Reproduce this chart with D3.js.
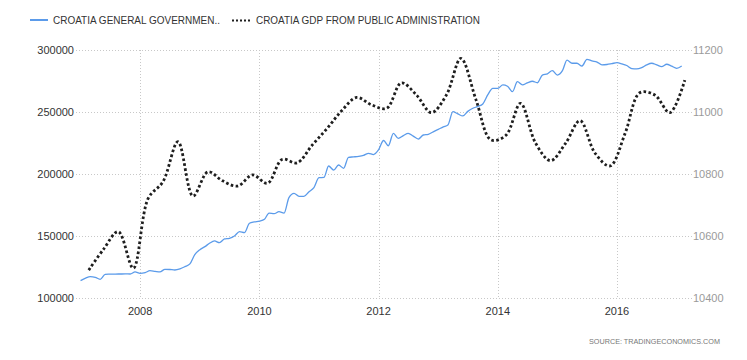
<!DOCTYPE html>
<html><head><meta charset="utf-8">
<script src="https://cdn.jsdelivr.net/npm/d3@7/dist/d3.min.js"></script>
<style>body{margin:0;background:#fff}svg{display:block}</style>
</head><body>
<script>
// ---------------- DATA ----------------
const blueMonths = [
"2007-01","2007-02","2007-03","2007-04","2007-05","2007-06","2007-07","2007-08","2007-09","2007-10","2007-11","2007-12",
"2008-01","2008-02","2008-03","2008-04","2008-05","2008-06","2008-07","2008-08","2008-09","2008-10","2008-11","2008-12",
"2009-01","2009-02","2009-03","2009-04","2009-05","2009-06","2009-07","2009-08","2009-09","2009-10","2009-11","2009-12",
"2010-01","2010-02","2010-03","2010-04","2010-05","2010-06","2010-07","2010-08","2010-09","2010-10","2010-11","2010-12",
"2011-01","2011-02","2011-03","2011-04","2011-05","2011-06","2011-07","2011-08","2011-09","2011-10","2011-11","2011-12",
"2012-01","2012-02","2012-03","2012-04","2012-05","2012-06","2012-07","2012-08","2012-09","2012-10","2012-11","2012-12",
"2013-01","2013-02","2013-03","2013-04","2013-05","2013-06","2013-07","2013-08","2013-09","2013-10","2013-11","2013-12",
"2014-01","2014-02","2014-03","2014-04","2014-05","2014-06","2014-07","2014-08","2014-09","2014-10","2014-11","2014-12",
"2015-01","2015-02","2015-03","2015-04","2015-05","2015-06","2015-07","2015-08","2015-09","2015-10","2015-11","2015-12",
"2016-01","2016-02","2016-03","2016-04","2016-05","2016-06","2016-07","2016-08","2016-09","2016-10","2016-11","2016-12",
"2017-01","2017-02"];
const blueValues = [
114000,116000,117200,116700,115100,119100,119200,119300,119350,119400,119350,121000,
119900,120500,122000,121500,121000,123150,123000,122600,123500,125250,127500,135000,
139000,141400,144100,146000,144600,147600,148150,150000,153500,152700,160250,161300,
162000,163500,168500,168000,169600,168500,181000,184400,182000,182000,185700,189000,
197000,197300,206450,203200,207250,204600,213450,213800,214200,215000,216700,215700,
219500,227000,222800,232800,228800,231000,232800,230500,228200,231450,232000,234000,
236000,238000,239500,250250,248500,246800,250500,253000,254500,256500,264000,269100,
269100,271800,270800,266400,274450,271800,273500,274800,273600,279800,280800,283300,
279800,283300,291900,289300,289300,287100,292500,291200,290300,288000,288300,289000,
289750,288800,287500,285000,284700,285800,288000,289300,288000,286600,288500,287000,
285250,287100];

const gdpQuarters = [
"2007-02-20","2007-05-20","2007-08-20","2007-11-20",
"2008-02-20","2008-05-20","2008-08-20","2008-11-20",
"2009-02-20","2009-05-20","2009-08-20","2009-11-20",
"2010-02-20","2010-05-20","2010-08-20","2010-11-20",
"2011-02-20","2011-05-20","2011-08-20","2011-11-20",
"2012-02-20","2012-05-20","2012-08-20","2012-11-20",
"2013-02-20","2013-05-20","2013-08-20","2013-11-20",
"2014-02-20","2014-05-20","2014-08-20","2014-11-20",
"2015-02-20","2015-05-20","2015-08-20","2015-11-20",
"2016-02-20","2016-05-20","2016-08-20","2016-11-20",
"2017-02-20"];
const gdpValues = [
10490,10556,10614,10496,
10722,10775,10904,10729,
10807,10778,10761,10797,
10770,10847,10836,10893,
10947,11004,11047,11023,
11012,11094,11055,10998,
11055,11173,11040,10910,
10925,11028,10900,10843,
10899,10972,10867,10826,
10931,11062,11055,10998,
11103];

const leftTicks = [100000,150000,200000,250000,300000];
const rightTicks = [10400,10600,10800,11000,11200];
const yearTicks = ["2008","2010","2012","2014","2016"];
const legendLabels = ["CROATIA  GENERAL  GOVERNMEN..", "CROATIA GDP FROM PUBLIC ADMINISTRATION"];
const sourceText = "SOURCE: TRADINGECONOMICS.COM";

// ---------------- CHART ----------------
const W = 747, H = 360;
const plot = {left: 76, right: 692, top: 50, bottom: 298};
const FONT = "'Liberation Sans', Arial, sans-serif";

const svg = d3.select("body").append("svg").attr("width", W).attr("height", H);

const pM = d3.timeParse("%Y-%m"), pD = d3.timeParse("%Y-%m-%d"), pY = d3.timeParse("%Y");

const x = d3.scaleTime()
  .domain([pD("2006-12-04"), pD("2017-04-05")])
  .range([plot.left, plot.right]);
const yL = d3.scaleLinear().domain([100000, 300000]).range([plot.bottom, plot.top]);
const yR = d3.scaleLinear().domain([10400, 11200]).range([plot.bottom, plot.top]);

// horizontal grid
svg.append("g").selectAll("line").data(leftTicks).join("line")
  .attr("x1", plot.left).attr("x2", plot.right)
  .attr("y1", d => yL(d) + 0.5).attr("y2", d => yL(d) + 0.5)
  .attr("stroke", "#c8c8c8").attr("stroke-width", 1).attr("stroke-dasharray", "1,2");

// vertical grid
svg.append("g").selectAll("line").data(yearTicks).join("line")
  .attr("x1", d => Math.round(x(pY(d))) + 0.5).attr("x2", d => Math.round(x(pY(d))) + 0.5)
  .attr("y1", plot.top).attr("y2", plot.bottom)
  .attr("stroke", "#c8c8c8").attr("stroke-width", 1).attr("stroke-dasharray", "1,2");

// left axis labels
svg.append("g").selectAll("text").data(leftTicks).join("text")
  .attr("x", 74).attr("y", d => yL(d)).attr("dy", "0.35em")
  .attr("text-anchor", "end").attr("font-family", FONT).attr("font-size", 11)
  .attr("fill", "#333").text(d => d);

// right axis labels
svg.append("g").selectAll("text").data(rightTicks).join("text")
  .attr("x", 693).attr("y", d => yR(d)).attr("dy", "0.35em")
  .attr("text-anchor", "start").attr("font-family", FONT).attr("font-size", 11)
  .attr("fill", "#9a9a9a").text(d => d);

// x axis labels
svg.append("g").selectAll("text").data(yearTicks).join("text")
  .attr("x", d => x(pY(d))).attr("y", 315)
  .attr("text-anchor", "middle").attr("font-family", FONT).attr("font-size", 11)
  .attr("fill", "#333").text(d => d);

// blue line
const blueData = blueMonths.map((m, i) => ({d: pM(m), v: blueValues[i]}));
svg.append("path").datum(blueData)
  .attr("fill", "none").attr("stroke", "#5b9bea").attr("stroke-width", 1.3)
  .attr("d", d3.line().x(p => x(p.d)).y(p => yL(p.v)).curve(d3.curveMonotoneX));

// dotted GDP line
const gdpData = gdpQuarters.map((q, i) => ({d: pD(q), v: gdpValues[i]}));
svg.append("path").datum(gdpData)
  .attr("fill", "none").attr("stroke", "#1e1e1e").attr("stroke-width", 2.8)
  .attr("stroke-dasharray", "2.6,2.4")
  .attr("d", d3.line().x(p => x(p.d)).y(p => yR(p.v)).curve(d3.curveCatmullRom.alpha(0.5)));

// legend
const lg = svg.append("g");
lg.append("line").attr("x1", 30).attr("x2", 48).attr("y1", 20).attr("y2", 20)
  .attr("stroke", "#5b9bea").attr("stroke-width", 2);
lg.append("text").attr("x", 53).attr("y", 24).attr("font-family", FONT).attr("font-size", 10)
  .attr("fill", "#333").attr("textLength", 167).attr("lengthAdjust", "spacingAndGlyphs")
  .text(legendLabels[0]);
lg.append("line").attr("x1", 232).attr("x2", 251).attr("y1", 20.5).attr("y2", 20.5)
  .attr("stroke", "#1e1e1e").attr("stroke-width", 2.2).attr("stroke-dasharray", "2,2");
lg.append("text").attr("x", 256).attr("y", 24).attr("font-family", FONT).attr("font-size", 10)
  .attr("fill", "#333").attr("textLength", 224).attr("lengthAdjust", "spacingAndGlyphs")
  .text(legendLabels[1]);

// source
svg.append("text").attr("x", 720).attr("y", 344).attr("text-anchor", "end")
  .attr("font-family", FONT).attr("font-size", 8).attr("fill", "#777")
  .attr("textLength", 131).attr("lengthAdjust", "spacingAndGlyphs")
  .text(sourceText);
</script>
</body></html>
